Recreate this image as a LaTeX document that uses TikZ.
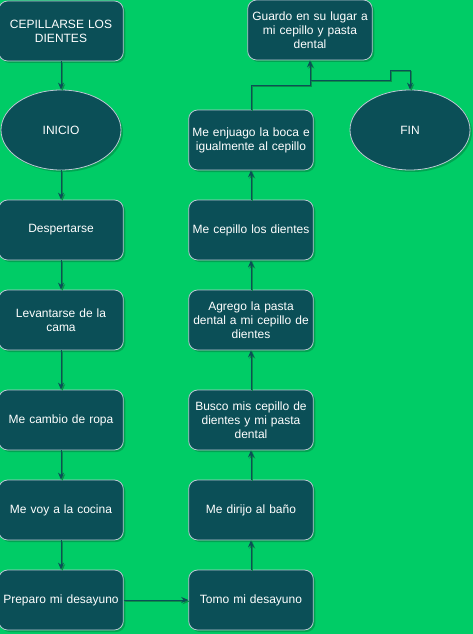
\documentclass[tikz,border=0pt]{standalone}
\usepackage{fontspec}
\setmainfont{Liberation Sans}
\usepackage{tikz}
\usetikzlibrary{shapes, arrows.meta, positioning, shadows}
\definecolor{fondo}{HTML}{00CC66}
\definecolor{caja}{HTML}{0B4F57}
\definecolor{borde}{HTML}{BAC8D3}
\definecolor{sombra}{HTML}{0A8F48}

\begin{document}
\begin{tikzpicture}
  [
    x=1pt, y=-1pt,
    Paso/.style={rectangle, rounded corners=9pt, draw=borde, fill=caja, line width=0.8pt,
      minimum width=120pt, minimum height=60pt, text width=118pt, align=center,
      text=white, font=\fontsize{12}{14}\selectfont,
      drop shadow={shadow xshift=2pt, shadow yshift=-2pt, fill=black, opacity=0.2}},
    Fin/.style={ellipse, draw=borde, fill=caja, line width=0.8pt,
      minimum width=120pt, minimum height=80pt, inner sep=0pt,
      text=white, font=\fontsize{12}{14}\selectfont,
      drop shadow={shadow xshift=2pt, shadow yshift=-2pt, fill=black, opacity=0.2}},
    Flecha/.style={draw=caja, line width=1pt, -{Stealth[length=7pt, width=6pt]},
      preaction={draw=sombra, line width=0.9pt, transform canvas={shift={(1.3pt,-1.3pt)}}}}
  ]
  \fill[fondo] (0,0) rectangle (473,634);
  \useasboundingbox (0,0) rectangle (473,634);
  % Nodes
  \node[Paso] (titulo) at (61, 31) {CEPILLARSE LOS\\DIENTES};
  \node[Fin] (inicio) at (61, 130) {INICIO};
  \node[Paso] (despertar) at (61, 230) {Despertarse};
  \node[Paso] (levantar) at (61, 320) {Levantarse de la\\cama};
  \node[Paso] (ropa) at (61, 420) {Me cambio de ropa};
  \node[Paso] (cocina) at (61, 510) {Me voy a la cocina};
  \node[Paso] (preparo) at (61, 600) {Preparo mi desayuno};
  \node[Paso] (tomo) at (251, 600) {Tomo mi desayuno};
  \node[Paso] (bano) at (251, 510) {Me dirijo al baño};
  \node[Paso] (busco) at (251, 420) {Busco mis cepillo de\\dientes y mi pasta\\dental};
  \node[Paso] (agrego) at (251, 320) {Agrego la pasta\\dental a mi cepillo de\\dientes};
  \node[Paso] (cepillo) at (251, 230) {Me cepillo los dientes};
  \node[Paso] (enjuago) at (251, 140) {Me enjuago la boca e\\igualmente al cepillo};
  \node[Paso] (guardo) at (310, 30) {Guardo en su lugar a\\mi cepillo y pasta\\dental};
  \node[Fin] (fin) at (410, 130) {FIN};
  \coordinate (codo) at (310, 85);
  \coordinate (salida) at (310, 80);
  % Lines
  \path [Flecha] (titulo) -- (inicio);
  \path [Flecha] (inicio) -- (despertar);
  \path [Flecha] (despertar) -- (levantar);
  \path [Flecha] (levantar) -- (ropa);
  \path [Flecha] (ropa) -- (cocina);
  \path [Flecha] (cocina) -- (preparo);
  \path [Flecha] (preparo) -- (tomo);
  \path [Flecha] (tomo) -- (bano);
  \path [Flecha] (bano) -- (busco);
  \path [Flecha] (busco) -- (agrego);
  \path [Flecha] (agrego) -- (cepillo);
  \path [Flecha] (cepillo) -- (enjuago);
  \path [Flecha] (enjuago.north) |- (codo) -- (guardo.south);
  \path [Flecha] (salida) -- (390, 80) -- (390, 70) -| (fin.north);
\end{tikzpicture}
\end{document}
